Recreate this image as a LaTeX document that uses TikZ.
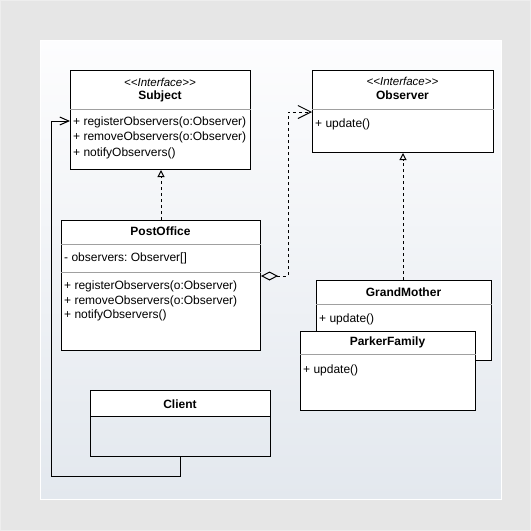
\documentclass[tikz,border=0pt]{standalone}
\usepackage{fontspec}
\setmainfont{Liberation Sans}
\frenchspacing
\usetikzlibrary{arrows.meta}
\definecolor{outerbg}{HTML}{E6E6E6}
\definecolor{outeredge}{HTML}{EEEEEE}
\definecolor{paneltop}{HTML}{FDFDFE}
\definecolor{panelbot}{HTML}{E3E8EE}
\definecolor{divgray}{HTML}{A0A0A0}
\newcommand{\stereotype}[1]{{<}{<}#1{>}{>}}
\tikzset{
  classbox/.style={draw=black, line width=1pt, fill=white, rectangle, inner sep=0pt, anchor=north west},
  openbox/.style={draw=black, line width=1pt, rectangle, inner sep=0pt, anchor=north west},
  divider/.style={draw=divgray, line width=0.8pt},
  member/.style={anchor=base west, inner sep=0pt, font=\fontsize{12}{14}\selectfont},
  cname/.style={anchor=base, inner sep=0pt, font=\fontsize{12}{14}\selectfont\bfseries},
  stereo/.style={anchor=base, inner sep=0pt, font=\fontsize{11.5}{14}\selectfont\itshape},
  umlline/.style={line width=1pt, draw=black},
  umldash/.style={line width=1pt, draw=black, dash pattern=on 3pt off 3pt},
  realize/.style={-{Triangle[open, length=7pt, width=7pt, line width=1pt]}},
  assoc/.style={-{Straight Barb[length=9pt, width=8pt, line width=1pt]}},
}
\begin{document}
\begin{tikzpicture}[x=1pt, y=-1pt]
  % canvas and panel
  \path[fill=outerbg, draw=outeredge, line width=1pt] (0.5,0.5) rectangle (530.5,530.5);
  \useasboundingbox (0,0) rectangle (531,531);
  \shade[top color=paneltop, bottom color=panelbot] (40,40) rectangle (501,499);
  \draw[white, line width=1pt] (40,40) rectangle (501,499);

  % Subject
  \node[classbox, minimum width=180pt, minimum height=99pt] (subject) at (70,70) {};
  \draw[divider] (subject.west |- 0,109) -- (subject.east |- 0,109);
  \node[stereo] (subject-st) at (160,86) {\stereotype{Interface}};
  \node[cname] (subject-name) at (160,99.5) {Subject};
  \node[member] (subject-m1) at (73,125.5) {+ registerObservers(o:Observer)};
  \node[member] (subject-m2) at (73,140.5) {+ removeObservers(o:Observer)};
  \node[member] (subject-m3) at (73,156) {+ notifyObservers()};

  % Observer
  \node[classbox, minimum width=181pt, minimum height=82pt] (observer) at (312,70) {};
  \draw[divider] (observer.west |- 0,109) -- (observer.east |- 0,109);
  \node[stereo] (observer-st) at (402.5,85.5) {\stereotype{Interface}};
  \node[cname] (observer-name) at (402.5,99) {Observer};
  \node[member] (observer-m1) at (315,127.5) {+ update()};

  % PostOffice
  \node[classbox, minimum width=199pt, minimum height=130pt] (post) at (61,220) {};
  \draw[divider] (post.west |- 0,244) -- (post.east |- 0,244);
  \draw[divider] (post.west |- 0,272) -- (post.east |- 0,272);
  \node[cname] (post-name) at (160.5,235) {PostOffice};
  \node[member] (post-a1) at (64,261.5) {- observers: Observer[]};
  \node[member] (post-m1) at (64,289.5) {+ registerObservers(o:Observer)};
  \node[member] (post-m2) at (64,304) {+ removeObservers(o:Observer)};
  \node[member] (post-m3) at (64,318.5) {+ notifyObservers()};

  % GrandMother
  \node[classbox, minimum width=175pt, minimum height=80pt] (grand) at (316,280) {};
  \draw[divider] (grand.west |- 0,304) -- (grand.east |- 0,304);
  \node[cname] (grand-name) at (403.5,296) {GrandMother};
  \node[member] (grand-m1) at (319,322) {+ update()};

  % ParkerFamily
  \node[classbox, minimum width=175pt, minimum height=79pt] (parker) at (300,331) {};
  \draw[divider] (parker.west |- 0,354) -- (parker.east |- 0,354);
  \node[cname] (parker-name) at (387.5,345.5) {ParkerFamily};
  \node[member] (parker-m1) at (303,373) {+ update()};

  % Client: white header, see-through body
  \fill[white] (90,390) rectangle (270,416);
  \node[openbox, minimum width=180pt, minimum height=66pt] (client) at (90,390) {};
  \draw[black, line width=1pt] (client.west |- 0,416) -- (client.east |- 0,416);
  \node[cname] (client-name) at (180,408.5) {Client};

  % connectors
  \coordinate (c1) at (180,476);
  \coordinate (c2) at (51,476);
  \coordinate (c3) at (51,121);
  \draw[umlline, assoc] (client.south -| c1) -- (c1) -- (c2) -- (c3) -- (subject.west |- c3);

  \draw[umldash, realize] (post.north -| 161,0) -- (subject.south -| 161,0);
  \draw[umldash, realize] (grand.north -| 403,0) -- (observer.south -| 403,0);

  \coordinate (d1) at (288,276);
  \coordinate (d2) at (288,112);
  \draw[umldash, {Diamond[open, length=17pt, width=9pt, line width=1pt]}-{Straight Barb[length=13pt, width=13pt, line width=1pt]}]
    (post.east |- d1) -- (d1) -- (d2) -- (observer.west |- d2);
\end{tikzpicture}
\end{document}
